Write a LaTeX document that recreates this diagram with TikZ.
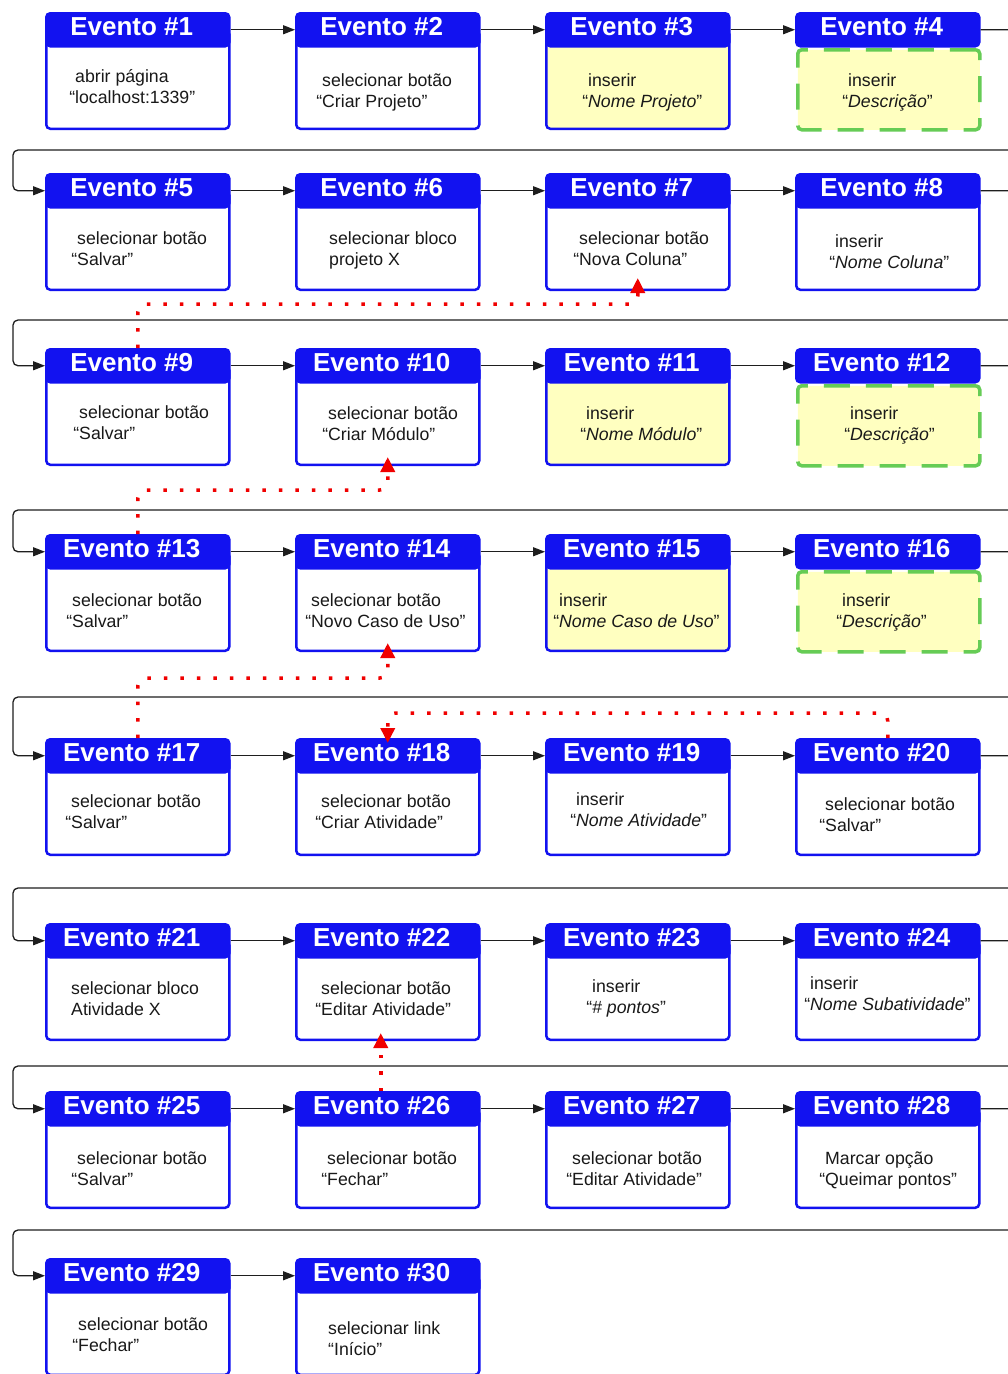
\documentclass[tikz,border=0pt]{standalone}
\usepackage{fontspec}
\setmainfont{Liberation Sans}
\usetikzlibrary{arrows.meta}

\definecolor{evblue}{RGB}{18,18,240}
\definecolor{evyellow}{RGB}{255,255,192}
\definecolor{evgreen}{RGB}{102,204,85}
\definecolor{evtext}{RGB}{25,25,25}
\definecolor{evline}{RGB}{30,30,30}
\definecolor{evred}{RGB}{240,0,0}

\tikzset{
  hdr/.style={draw=evblue, fill=evblue, line width=2.5pt, rounded corners=4pt,
    minimum width=183pt, minimum height=33pt, inner sep=0pt,
    text=white, font=\fontsize{26}{30}\selectfont\bfseries,
    text height=18.6pt, text depth=7.6pt, anchor=north west},
  solidbody/.style={draw=evblue, line width=2.5pt, rounded corners=4pt,
    minimum width=183pt, minimum height=98.5pt, inner sep=0pt, anchor=north west},
  plainbody/.style={solidbody, fill=white},
  yellowbody/.style={solidbody, fill=evyellow},
  dashbody/.style={draw=evgreen, fill=evyellow, line width=3.5pt, rounded corners=4pt,
    dash pattern=on 26pt off 16pt,
    minimum width=182pt, minimum height=80pt, inner sep=0pt, anchor=north west},
  bodytxt/.style={inner sep=0pt, anchor=base west, text=evtext,
    font=\fontsize{17.7}{21}\selectfont},
  conn/.style={draw=evline, line width=1.3pt, -{Triangle[length=12pt,width=9pt]}},
  wrap/.style={conn, rounded corners=5pt},
  reddot/.style={draw=evred, line width=3.5pt, dash pattern=on 3.5pt off 13pt,
    rounded corners=8pt, -{Triangle[length=15pt,width=14pt]}},
}

% #1 number, #2 left x, #3 top y, #4 body style, #5 text indent, #6 first baseline, #7 line 1, #8 line 2
\newcommand\evento[8]{%
  \node[#4] (b#1) at (#2,#3+17) {};
  \node[hdr] (h#1) at (#2,#3) {Evento \##1\hspace*{12pt}};
  \node[bodytxt] (t#1) at (#2+#5,#3+#6) {#7};
  \node[bodytxt] (u#1) at (#2+#5,#3+#6+21) {#8};
}
% same event box, with a dashed green body under the header
\newcommand\eventod[7]{%
  \node[hdr] (h#1) at (#2,#3) {Evento \##1\hspace*{12pt}};
  \node[dashbody] (b#1) at (#2+1,#3+36) {};
  \node[bodytxt] (t#1) at (#2+#4,#3+#5) {#6};
  \node[bodytxt] (u#1) at (#2+#4,#3+#5+21) {#7};
}

\begin{document}
\begin{tikzpicture}[x=1pt, y=-1pt]
  \useasboundingbox (0,0) rectangle (1008,1374);
  \fill[white] (0,0) rectangle (1008,1374);
  \clip (0,0) rectangle (1008,1374);

  % row 1
  \evento{1}{45}{12}{plainbody}{30}{70}{abrir página}{\llap{“}localhost:1339”}
  \evento{2}{295}{12}{plainbody}{27}{74}{selecionar botão}{\llap{“}Criar Projeto”}
  \evento{3}{545}{12}{yellowbody}{43}{74}{inserir}{\llap{“}\textit{Nome Projeto}”}
  \eventod{4}{795}{12}{53}{74}{inserir}{\llap{“}\textit{Descrição}”}
  % row 2
  \evento{5}{45}{173}{plainbody}{32}{71}{selecionar botão}{\llap{“}Salvar”}
  \evento{6}{295}{173}{plainbody}{34}{71}{selecionar bloco}{projeto X}
  \evento{7}{545}{173}{plainbody}{34}{71}{selecionar botão}{\llap{“}Nova Coluna”}
  \evento{8}{795}{173}{plainbody}{40}{74}{inserir}{\llap{“}\textit{Nome Coluna}”}
  % row 3
  \evento{9}{45}{348}{plainbody}{34}{70}{selecionar botão}{\llap{“}Salvar”}
  \evento{10}{295}{348}{plainbody}{33}{71}{selecionar botão}{\llap{“}Criar Módulo”}
  \evento{11}{545}{348}{yellowbody}{41}{71}{inserir}{\llap{“}\textit{Nome Módulo}”}
  \eventod{12}{795}{348}{55}{71}{inserir}{\llap{“}\textit{Descrição}”}
  % row 4
  \evento{13}{45}{534}{plainbody}{27}{72}{selecionar botão}{\llap{“}Salvar”}
  \evento{14}{295}{534}{plainbody}{16}{72}{selecionar botão}{\llap{“}Novo Caso de Uso”}
  \evento{15}{545}{534}{yellowbody}{14}{72}{inserir}{\llap{“}\textit{Nome Caso de Uso}”}
  \eventod{16}{795}{534}{47}{72}{inserir}{\llap{“}\textit{Descrição}”}
  % row 5
  \evento{17}{45}{738}{plainbody}{26}{69}{selecionar botão}{\llap{“}Salvar”}
  \evento{18}{295}{738}{plainbody}{26}{69}{selecionar botão}{\llap{“}Criar Atividade”}
  \evento{19}{545}{738}{plainbody}{31}{67}{inserir}{\llap{“}\textit{Nome Atividade}”}
  \evento{20}{795}{738}{plainbody}{30}{72}{selecionar botão}{\llap{“}Salvar”}
  % row 6
  \evento{21}{45}{923}{plainbody}{26}{71}{selecionar bloco}{Atividade X}
  \evento{22}{295}{923}{plainbody}{26}{71}{selecionar botão}{\llap{“}Editar Atividade”}
  \evento{23}{545}{923}{plainbody}{47}{69}{inserir}{\llap{“}\textit{\# pontos}”}
  \evento{24}{795}{923}{plainbody}{15}{66}{inserir}{\llap{“}\textit{Nome Subatividade}”}
  % row 7
  \evento{25}{45}{1091}{plainbody}{32}{73}{selecionar botão}{\llap{“}Salvar”}
  \evento{26}{295}{1091}{plainbody}{32}{73}{selecionar botão}{\llap{“}Fechar”}
  \evento{27}{545}{1091}{plainbody}{27}{73}{selecionar botão}{\llap{“}Editar Atividade”}
  \evento{28}{795}{1091}{plainbody}{30}{73}{Marcar opção}{\llap{“}Queimar pontos”}
  % row 8
  \evento{29}{45}{1258}{plainbody}{33}{72}{selecionar botão}{\llap{“}Fechar”}
  \evento{30}{295}{1258}{plainbody}{33}{76}{selecionar link}{“Início”}

  % arrows inside each row
  \foreach \a/\b in {1/2,2/3,3/4,5/6,6/7,7/8,9/10,10/11,11/12,13/14,14/15,15/16,
                     17/18,18/19,19/20,21/22,22/23,23/24,25/26,26/27,27/28,29/30}
    \draw[conn] (h\a.east) -- (h\b.west);

  % row wrap-around connectors: out past the right edge, back along the left
  \foreach \a/\b/\wy in {4/5/150, 8/9/320, 12/13/510, 16/17/697,
                         20/21/888, 24/25/1066, 28/29/1230} {
    \coordinate (r\b) at (1040,\wy);
    \coordinate (w\b) at (13,\wy);
    \draw[wrap] (h\a.east) -| (r\b) -- (w\b) |- (h\b.west);
  }

  % dotted red back references
  \coordinate (k1) at (0,304);
  \coordinate (k2) at (0,490);
  \coordinate (k3) at (0,678);
  \coordinate (k4) at (0,713);
  \draw[reddot] (h9.north) |- (b7.south |- k1) -- ([yshift=13pt]b7.south);
  \draw[reddot] (h13.north) |- (b10.south |- k2) -- ([yshift=9pt]b10.south);
  \draw[reddot] (h17.north) |- (b14.south |- k3) -- ([yshift=9pt]b14.south);
  \draw[reddot] (h20.north) |- (h18.north |- k4) -- ([yshift=-5pt]h18.north);
  \draw[reddot] ([xshift=-7pt]h26.north) -- ([xshift=-7pt,yshift=8pt]b22.south);
\end{tikzpicture}
\end{document}
